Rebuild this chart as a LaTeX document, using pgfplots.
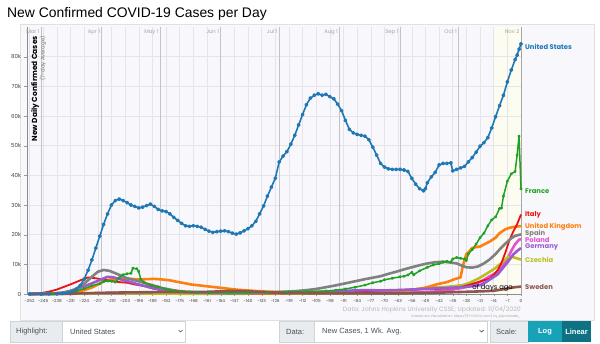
\documentclass[border=0pt]{standalone}
\usepackage{pgfplots}
\pgfplotsset{compat=1.18}
\usepackage{fontspec}
\setmainfont{Liberation Sans}
\newfontfamily\pop{Poppins}
\definecolor{cUS}{HTML}{1F77B4}
\definecolor{cFR}{HTML}{21A121}
\definecolor{cIT}{HTML}{EE1111}
\definecolor{cUK}{HTML}{FF7F0E}
\definecolor{cES}{HTML}{808080}
\definecolor{cPL}{HTML}{E352D3}
\definecolor{cDE}{HTML}{9A5BD0}
\definecolor{cCZ}{HTML}{BCBD22}
\definecolor{cSE}{HTML}{8C564B}
\definecolor{panelbg}{HTML}{F8F8FC}
\definecolor{gridc}{HTML}{E4E4EA}
\definecolor{monthc}{HTML}{C4C4C8}
\definecolor{boxbg}{HTML}{E9ECEF}
\definecolor{boxbd}{HTML}{CED4DA}
\definecolor{boxtx}{HTML}{495057}
\definecolor{tealA}{HTML}{17A2B8}
\definecolor{tealB}{HTML}{0F7282}
\definecolor{lastwk}{HTML}{FCFCF0}
\begin{document}
\begin{tikzpicture}[x=1pt,y=1pt]
\useasboundingbox (0,0) rectangle (600,343);
\fill[white] (0,0) rectangle (600,343);
% title
\node[anchor=base west, inner sep=0, font=\fontsize{13.9}{16}\selectfont] at (7,325) {New Confirmed COVID-19 Cases per Day};
% panel
\filldraw[fill=panelbg, draw=black!12] (20,23) rectangle (594,319);
% last two weeks shading
\fill[lastwk] (494,49) rectangle (521,316);
\begin{axis}[
  at={(27pt,49pt)}, anchor=south west, scale only axis,
  width=494pt, height=267pt,
  xmin=-253.3, xmax=0, ymin=0, ymax=90000, clip=false,
  axis lines*=left, axis line style={draw=black!45, line width=0.6pt},
  xtick={-252,-245,...,0}, ytick={0,10000,...,80000},
  yticklabels={0,10k,20k,30k,40k,50k,60k,70k,80k},
  scaled y ticks=false,
  /pgf/number format/assume math mode=true,
  grid=major, major grid style={gridc, line width=0.5pt},
  tick align=outside, major tick length=2.5pt, tick style={black!40},
  xticklabel style={font=\pop\fontsize{4.2}{5}\selectfont, text=black!75, yshift=1pt},
  yticklabel style={font=\pop\fontsize{5.5}{6}\selectfont, text=black!75},
]
% month lines
\pgfplotsinvokeforeach{-246,-215,-185,-154,-124,-93,-62,-32}{
  \draw[monthc, line width=0.7pt] (axis cs:#1,0) -- (axis cs:#1,90000);
}
\draw[black!35, line width=0.9pt] (axis cs:0,0) -- (axis cs:0,90000);
\begin{scope}[every node/.style={anchor=north east, inner sep=0, font=\pop\fontsize{5.3}{6}\selectfont, text=black!35, xshift=-1.5pt, yshift=-2.5pt}]
\node at (axis cs:-246,90000) {Mar 1};
\node at (axis cs:-215,90000) {Apr 1};
\node at (axis cs:-185,90000) {May 1};
\node at (axis cs:-154,90000) {Jun 1};
\node at (axis cs:-124,90000) {Jul 1};
\node at (axis cs:-93,90000) {Aug 1};
\node at (axis cs:-62,90000) {Sep 1};
\node at (axis cs:-32,90000) {Oct 1};
\node at (axis cs:0,90000) {Nov 2};
\end{scope}
% Poland
\addplot[cPL, line width=2.6pt, line join=round] coordinates {
(-252,0) (-235,30) (-225,150) (-210,350) (-190,350) (-170,350) (-150,350) (-130,300) (-110,400) (-90,700) (-75,700) (-60,500) (-50,600) (-40,1000) (-35,1500) (-30,2100) (-26,2800) (-22,3800) (-19,4800) (-16,6000) (-13,7000) (-10,9000) (-7,11800) (-5,14500) (-3,16800) (-1,18300) (0,18500)};
% Czechia
\addplot[cCZ, line width=2.6pt, line join=round] coordinates {
(-252,0) (-240,10) (-230,100) (-220,250) (-210,300) (-200,250) (-190,150) (-170,80) (-150,60) (-130,150) (-120,200) (-110,150) (-100,250) (-90,300) (-80,350) (-70,500) (-60,900) (-55,1500) (-50,1900) (-45,2200) (-40,2300) (-35,2600) (-30,3000) (-27,3600) (-24,4500) (-21,5500) (-18,6700) (-16,7500) (-13,8800) (-11,9900) (-9,11000) (-7,12300) (-5,12600) (-3,12200) (-1,11800) (0,11600)};
% UK
\addplot[cUK, line width=2.6pt, line join=round] coordinates {
(-252,10) (-240,50) (-232,300) (-228,700) (-224,1300) (-220,2200) (-216,3500) (-213,4600) (-210,4900) (-207,5000) (-204,5200) (-200,5100) (-196,4900) (-192,5000) (-188,5100) (-184,4900) (-180,4600) (-177,4200) (-173,3700) (-169,3200) (-165,2900) (-161,2600) (-157,2300) (-153,2000) (-149,1700) (-145,1400) (-140,1200) (-135,950) (-130,800) (-125,700) (-120,650) (-110,650) (-100,750) (-90,800) (-80,1000) (-70,1100) (-60,1200) (-55,1500) (-50,2000) (-47,2500) (-43,3300) (-38,4000) (-34,5000) (-31,5600) (-30,9000) (-28,13500) (-27,14000) (-25,15500) (-23,15800) (-21,16000) (-18,17000) (-16,17700) (-13,19000) (-11,20500) (-8,21800) (-6,22300) (-3,22700) (0,22900)};
% Italy
\addplot[cIT, line width=1.8pt, line join=round] coordinates {
(-252,150) (-246,300) (-242,800) (-238,1500) (-234,2500) (-230,3500) (-226,4600) (-222,5600) (-218,5300) (-214,4800) (-210,4400) (-206,4000) (-202,3800) (-198,3200) (-194,2800) (-190,2500) (-186,2000) (-182,1600) (-178,1300) (-174,1000) (-170,700) (-166,550) (-160,400) (-150,300) (-140,220) (-130,200) (-120,220) (-110,250) (-100,300) (-90,500) (-80,900) (-70,1300) (-60,1400) (-50,1600) (-42,1700) (-35,2000) (-30,2500) (-26,3200) (-22,4000) (-19,4600) (-16,5200) (-14,6500) (-12,8000) (-10,10500) (-8,14000) (-6,18000) (-4,21000) (-2,23500) (0,26800)};
% Germany
\addplot[cDE, line width=2.6pt, line join=round] coordinates {
(-252,5) (-244,50) (-240,150) (-236,400) (-232,900) (-228,1600) (-224,2600) (-220,3600) (-216,4700) (-212,5800) (-209,5600) (-206,5100) (-203,4500) (-200,4000) (-196,3200) (-192,2500) (-188,1800) (-184,1300) (-180,900) (-176,700) (-170,600) (-160,450) (-150,350) (-140,400) (-130,450) (-120,400) (-110,500) (-100,700) (-90,1100) (-80,1300) (-70,1200) (-60,1400) (-50,1700) (-40,2000) (-33,2200) (-28,2400) (-24,2700) (-21,3000) (-18,4000) (-15,5300) (-12,6600) (-9,9000) (-7,10600) (-4,13300) (-2,14500) (0,15500)};
% Spain
\addplot[cES, line width=2.6pt, line join=round] coordinates {
(-252,10) (-240,100) (-234,500) (-230,1200) (-227,2200) (-224,3500) (-220,5800) (-217,7500) (-214,8100) (-211,7800) (-208,7000) (-205,6200) (-202,5300) (-199,4800) (-196,4300) (-192,3500) (-188,2800) (-184,2000) (-180,1500) (-176,900) (-170,500) (-160,300) (-150,250) (-140,300) (-130,500) (-120,800) (-115,1000) (-110,1300) (-105,1700) (-100,2300) (-95,2900) (-90,3600) (-85,4300) (-80,5000) (-76,5500) (-72,6000) (-68,6800) (-64,7500) (-60,8300) (-56,9000) (-52,9700) (-48,10300) (-44,10700) (-40,10900) (-36,10600) (-33,10300) (-30,9500) (-28,9000) (-25,8900) (-22,9300) (-19,10300) (-16,11700) (-13,13500) (-11,15000) (-8,17000) (-5,18800) (-3,19600) (0,20100)};
% France
\addplot[cFR, line width=1.5pt, line join=round, mark=*, mark size=0.8pt] coordinates {
(-252,10) (-240,100) (-232,500) (-228,1000) (-224,1800) (-220,2800) (-216,3500) (-214,4200) (-212,4400) (-210,4300) (-208,4000) (-206,5500) (-204,6500) (-202,6800) (-200,7000) (-199,8700) (-197,8500) (-196,7600) (-195,5000) (-193,3800) (-190,3000) (-186,2400) (-182,1600) (-178,1100) (-174,900) (-170,800) (-166,600) (-160,500) (-150,450) (-140,500) (-130,600) (-120,700) (-110,800) (-100,1000) (-95,1300) (-90,1700) (-85,2300) (-80,3000) (-76,3800) (-72,4300) (-70,4800) (-66,5300) (-62,5800) (-60,6000) (-58,6400) (-56,7300) (-55,6500) (-52,7800) (-48,9000) (-45,9800) (-42,10200) (-40,10700) (-38,11000) (-36,10800) (-35,11800) (-33,12300) (-31,12000) (-29,11800) (-28,11300) (-27,13500) (-25,15000) (-23,16800) (-21,19000) (-19,20500) (-17,23000) (-15,25000) (-13,26000) (-11,28800) (-10,29000) (-9,33000) (-7,38000) (-5,40500) (-3,41300) (-2,46800) (-1,53200) (0,35500)};
% Sweden
\addplot[cSE, line width=2.6pt, line join=round] coordinates {
(-252,0) (-240,50) (-230,150) (-220,300) (-210,450) (-200,550) (-190,600) (-180,650) (-170,650) (-160,750) (-150,1000) (-145,1050) (-140,900) (-130,600) (-120,350) (-110,250) (-100,250) (-90,250) (-80,200) (-70,200) (-60,250) (-50,350) (-40,500) (-30,700) (-20,900) (-14,1100) (-10,1500) (-6,2000) (-3,2300) (0,2500)};
% United States
\addplot[cUS, line width=1.6pt, line join=round, mark=*, mark size=1.2pt] coordinates {
(-252,2) (-246,5) (-242,20) (-238,80) (-235,200) (-232,500) (-230,900) (-228,1600) (-226,2900) (-224,5000) (-222,8000) (-220,11500) (-218,15500) (-216,19500) (-214,23500) (-212,27000) (-210,30000) (-208,31500) (-206,32000) (-204,31500) (-202,30800) (-200,30000) (-198,29500) (-196,29000) (-194,29300) (-192,29800) (-190,30300) (-188,29500) (-186,28500) (-184,28000) (-182,27800) (-180,27000) (-178,25800) (-176,24800) (-174,23800) (-172,23000) (-170,22800) (-168,23000) (-166,22800) (-164,22500) (-162,21800) (-160,21200) (-158,20800) (-156,21000) (-154,21200) (-152,21300) (-150,21000) (-148,20500) (-146,20200) (-144,20600) (-142,21300) (-140,22000) (-138,23000) (-136,24500) (-134,27000) (-132,29700) (-130,33000) (-128,36000) (-126,39000) (-124,44500) (-122,46500) (-120,48000) (-118,50500) (-116,53500) (-114,57000) (-112,60500) (-110,63800) (-108,66000) (-106,67000) (-104,67500) (-102,67000) (-100,67300) (-98,66500) (-96,65800) (-94,64000) (-92,61800) (-90,58500) (-88,55500) (-86,54300) (-84,53800) (-82,53500) (-80,53200) (-78,52000) (-76,49500) (-74,46800) (-72,44000) (-70,42800) (-68,42200) (-66,42000) (-64,42000) (-62,42000) (-60,41800) (-58,41300) (-56,39000) (-54,37000) (-52,35500) (-50,34800) (-49,35500) (-48,37500) (-46,39500) (-44,41000) (-42,43500) (-40,44000) (-38,44000) (-36,44200) (-35,41500) (-33,42000) (-31,42500) (-29,43000) (-27,44500) (-25,46000) (-23,47800) (-21,49800) (-19,51000) (-17,52700) (-15,56000) (-13,59800) (-11,63500) (-9,67000) (-7,71500) (-5,75500) (-3,79000) (-2,80500) (-1,82500) (0,84300)};
\end{axis}
% y axis label
\node[rotate=90, anchor=north east, inner sep=0, font=\pop\bfseries\fontsize{7.4}{8}\selectfont] at (31,307) {New Daily Confirmed Cases};
\node[rotate=90, anchor=north east, inner sep=0, font=\pop\fontsize{5.3}{6}\selectfont, text=black!55] at (39.5,307) {(7-day Average)};
% x label remnant
\node[anchor=east, inner sep=0, font=\pop\fontsize{6.8}{8}\selectfont] at (513,55) {of days ago};
% series labels
\begin{scope}[every node/.style={anchor=west, inner sep=0, font=\pop\bfseries\fontsize{6.8}{7.5}\selectfont}]
\node[text=cUS] at (525,296) {United States};
\node[text=cFR] at (525,152) {France};
\node[text=cIT] at (525,128) {Italy};
\node[text=cUK] at (525,116) {United Kingdom};
\node[text=cES] at (525,109) {Spain};
\node[text=cPL] at (525,103) {Poland};
\node[text=cDE] at (525,96) {Germany};
\node[text=cCZ] at (525,83) {Czechia};
\node[text=cSE] at (525,56) {Sweden};
\end{scope}
% footer
\node[anchor=base east, inner sep=0, font=\pop\fontsize{6.2}{7}\selectfont, text=black!28] at (521,31) {Data: Johns Hopkins University CSSE; Updated: 11/04/2020};
\node[anchor=base east, inner sep=0, font=\pop\fontsize{3.4}{4}\selectfont, text=black!35] at (521,25.5) {Interactive Visualization: https://91-DIVOC.com/ by @profwade\_};
% controls
\filldraw[fill=boxbg, draw=boxbd, line width=0.5pt] (10,1) rectangle (62,22);
\filldraw[fill=white, draw=boxbd, line width=0.5pt] (62,1) rectangle (185,22);
\node[anchor=west, inner sep=0, font=\fontsize{7.5}{9}\selectfont, text=boxtx] at (16,11.5) {Highlight:};
\node[anchor=west, inner sep=0, font=\fontsize{7.5}{9}\selectfont, text=boxtx] at (70,11.5) {United States};
\draw[boxtx, line width=0.7pt] (178.5,13) -- (180.5,11) -- (182.5,13);
\filldraw[fill=boxbg, draw=boxbd, line width=0.5pt] (279,1) rectangle (314,22);
\filldraw[fill=white, draw=boxbd, line width=0.5pt] (314,1) rectangle (487,22);
\node[anchor=west, inner sep=0, font=\fontsize{7.5}{9}\selectfont, text=boxtx] at (286,11.5) {Data:};
\node[anchor=west, inner sep=0, font=\fontsize{7.5}{9}\selectfont, text=boxtx] at (322,11.5) {New Cases, 1 Wk. Avg.};
\draw[boxtx, line width=0.7pt] (479.5,13) -- (481.5,11) -- (483.5,13);
\filldraw[fill=boxbg, draw=boxbd, line width=0.5pt] (490,1) rectangle (528,22);
\node[anchor=west, inner sep=0, font=\fontsize{7.5}{9}\selectfont, text=boxtx] at (496,11.5) {Scale:};
\fill[tealA] (528,1) rectangle (562,22);
\fill[tealB] (562,1) rectangle (591,22);
\node[inner sep=0, font=\bfseries\fontsize{7.5}{9}\selectfont, text=white] at (545,11.5) {Log};
\node[inner sep=0, font=\bfseries\fontsize{7.5}{9}\selectfont, text=white] at (576.5,11.5) {Linear};
\end{tikzpicture}
\end{document}
